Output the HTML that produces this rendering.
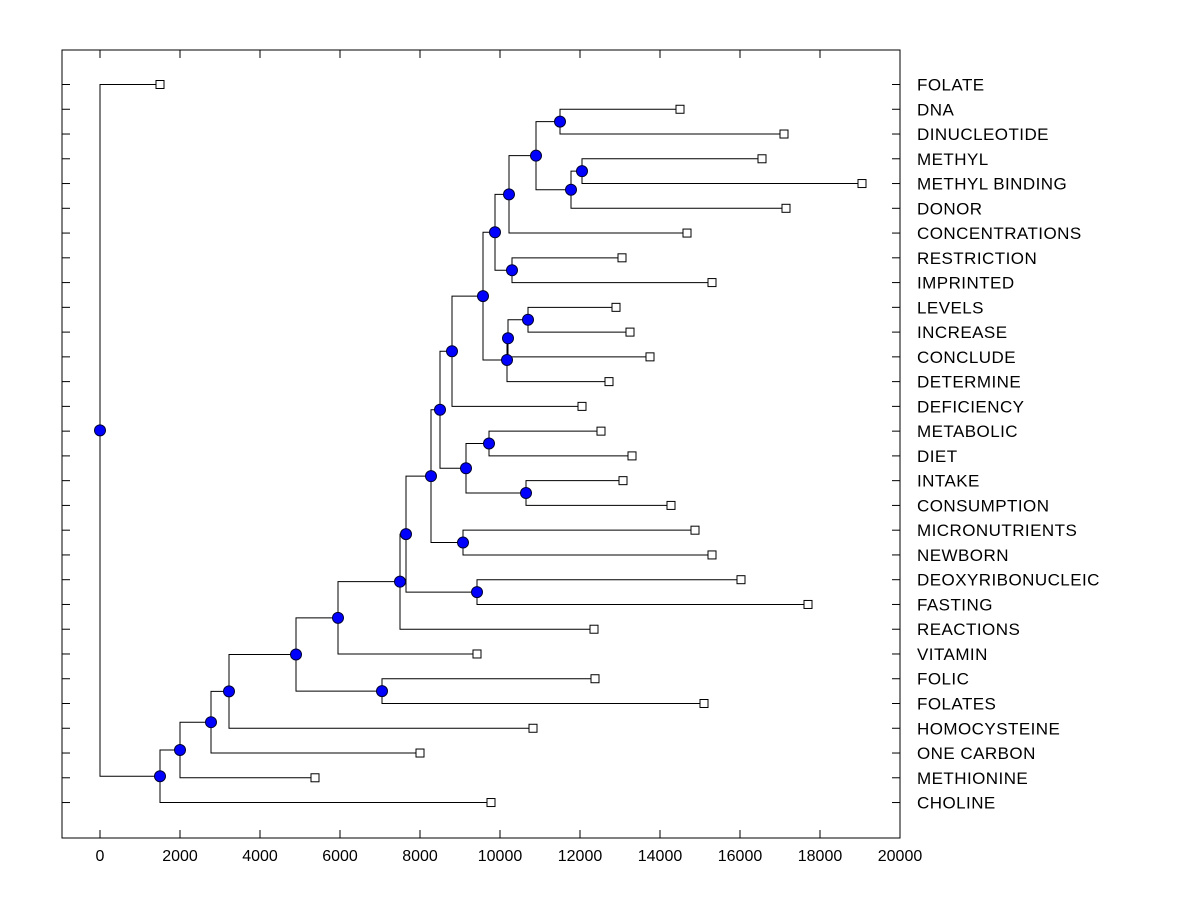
<!DOCTYPE html>
<html><head><meta charset="utf-8"><style>
html,body{margin:0;padding:0;background:#fff;}
svg{display:block;font-family:"Liberation Sans",Arial,sans-serif;}
</style></head><body>
<svg id="chart" width="1200" height="900" xmlns="http://www.w3.org/2000/svg">
<rect x="0" y="0" width="1200" height="900" fill="#fff"/>
<g id="links"></g>
<g id="marks"></g>
<g id="axes"></g>
</svg>
<script>
// Leaves in display order (top to bottom) and their heights
const leafNames = ["FOLATE","DNA","DINUCLEOTIDE","METHYL","METHYL BINDING","DONOR","CONCENTRATIONS","RESTRICTION","IMPRINTED","LEVELS","INCREASE","CONCLUDE","DETERMINE","DEFICIENCY","METABOLIC","DIET","INTAKE","CONSUMPTION","MICRONUTRIENTS","NEWBORN","DEOXYRIBONUCLEIC","FASTING","REACTIONS","VITAMIN","FOLIC","FOLATES","HOMOCYSTEINE","ONE CARBON","METHIONINE","CHOLINE"];
const leafHeights = [1500,14500,17100,16550,19050,17150,14675,13050,15300,12900,13250,13750,12725,12050,12525,13300,13075,14275,14875,15300,16025,17700,12350,9425,12375,15100,10825,8000,5375,9775];
// Internal nodes: children refer to leaves as "L<i>" and nodes as "N<i>"
const nodeHeights = [11500,12050,11775,10900,10225,10300,9875,10700,10200,10175,9575,8800,9725,10650,9150,8500,9075,8275,9425,7650,7500,5950,7050,4900,3225,2775,2000,1500,0];
const nodeLeft  = ["L1","L3","N1","N0","N3","L7","N4","L9","N7","N8","N6","N10","L14","L16","N12","N11","L18","N15","L20","N17","N19","N20","L24","N21","N23","N24","N25","N26","L0"];
const nodeRight = ["L2","L4","L5","N2","L6","L8","N5","L10","L11","L12","N9","L13","L15","L17","N13","N14","L19","N16","L21","N18","L22","L23","L25","N22","L26","L27","L28","L29","N27"];
const xTicks = [0,2000,4000,6000,8000,10000,12000,14000,16000,18000,20000];

const L=62,R=900,T=50,B=838;
const xMin=-950,xMax=20000;
const X=v=>L+(v-xMin)/(xMax-xMin)*(R-L);
const y0=84.5,dy=24.76;
const Y=i=>y0+i*dy;
const NS="http://www.w3.org/2000/svg";
function mk(tag,attrs,parent){const e=document.createElementNS(NS,tag);for(const k in attrs)e.setAttribute(k,attrs[k]);parent.appendChild(e);return e;}
const gL=document.getElementById('links'),gM=document.getElementById('marks'),gA=document.getElementById('axes');

const nodeY=[];
function pos(ref){const i=+ref.slice(1);if(ref[0]==='L')return {x:X(leafHeights[i]),y:Y(i)};return {x:X(nodeHeights[i]),y:nodeY[i]};}
for(let i=0;i<nodeHeights.length;i++){
  const a=pos(nodeLeft[i]),b=pos(nodeRight[i]);
  nodeY[i]=(a.y+b.y)/2;
  const nx=X(nodeHeights[i]);
  const p=mk('path',{d:`M${a.x},${a.y}H${nx}V${b.y}H${b.x}`,fill:'none',stroke:'#000','stroke-width':1},gL);
  
  
}
for(let i=0;i<leafNames.length;i++){
  const s=mk('rect',{x:X(leafHeights[i])-4,y:Y(i)-4,width:8,height:8,fill:'#fff',stroke:'#000','stroke-width':1},gM);
  
  
  const t=mk('text',{x:917,y:Y(i)+6,'font-size':17,'letter-spacing':0.45,fill:'#000'},gA);
  t.textContent=leafNames[i];
  
  
  const tl=mk('line',{x1:L,x2:L+8,y1:Y(i),y2:Y(i),stroke:'#000'},gA);
  
  
  const tr=mk('line',{x1:R-8,x2:R,y1:Y(i),y2:Y(i),stroke:'#000'},gA);
  
  
}
for(let i=0;i<nodeHeights.length;i++){
  const c=mk('circle',{cx:X(nodeHeights[i]),cy:nodeY[i],r:5.5,fill:'#0000ff',stroke:'#000033','stroke-width':1},gM);
  
  
}
const fr=mk('rect',{x:L,y:T,width:R-L,height:B-T,fill:'none',stroke:'#000','stroke-width':1},gA);


xTicks.forEach(v=>{
  const x=X(v);
  const tb=mk('line',{x1:x,x2:x,y1:B-8,y2:B,stroke:'#000'},gA);
  
  
  const tt=mk('line',{x1:x,x2:x,y1:T,y2:T+8,stroke:'#000'},gA);
  
  
  const t=mk('text',{x:x,y:861,'font-size':16,'text-anchor':'middle',fill:'#000'},gA);
  t.textContent=v;
  
  
});
</script>
</body></html>
